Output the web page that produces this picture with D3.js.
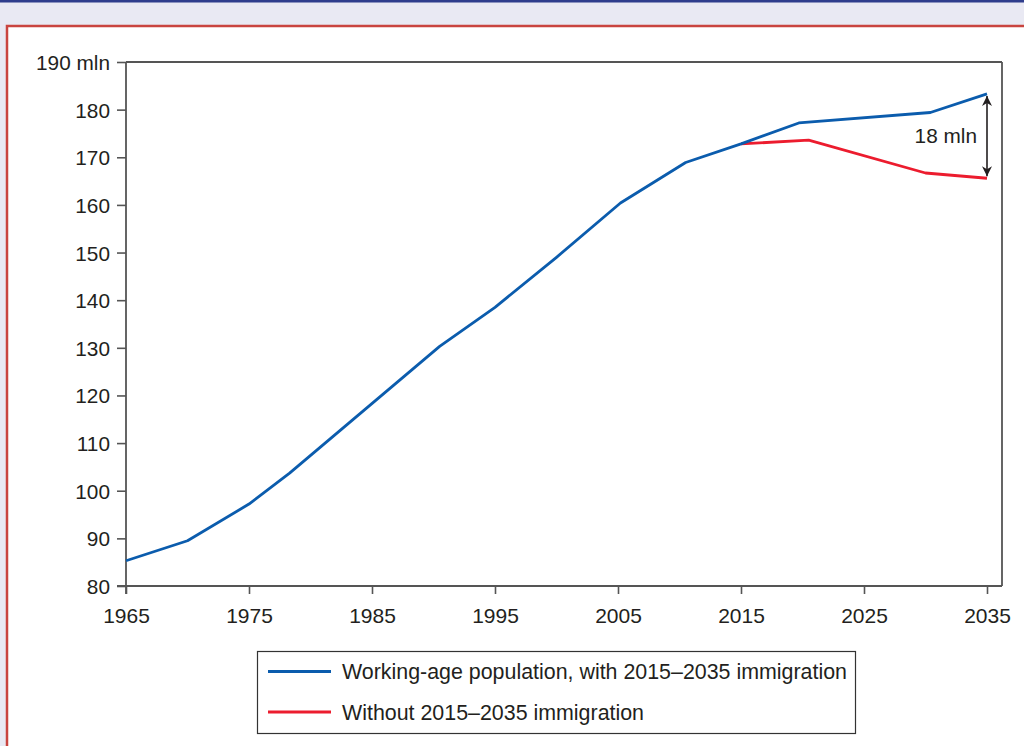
<!DOCTYPE html>
<html><head><meta charset="utf-8">
<script src="https://cdn.jsdelivr.net/npm/d3@7"></script>
<style>
html,body{margin:0;padding:0;background:#e9e9f3;}
svg{display:block;font-family:"Liberation Sans",Arial,Helvetica,sans-serif;}
</style></head>
<body>
<svg id="chart" width="1024" height="746"></svg>
<script>
// Data
const yearsWith = [1965, 1970, 1975, 1978.3, 1990.5, 1995, 2000, 2005.2, 2010.5, 2015, 2019.7, 2030.4, 2035];
const valuesWith = [85.3, 89.5, 97.2, 103.7, 130.3, 138.5, 149.0, 160.4, 168.9, 172.8, 177.2, 179.4, 183.3];
const yearsWithout = [2015, 2020.5, 2030, 2035];
const valuesWithout = [172.8, 173.6, 166.7, 165.6];
const xTicks = [1965, 1975, 1985, 1995, 2005, 2015, 2025, 2035];
const yTicks = [80, 90, 100, 110, 120, 130, 140, 150, 160, 170, 180, 190];
const legendLabels = ["Working-age population, with 2015\u20132035 immigration", "Without 2015\u20132035 immigration"];
const gapLabel = "18 mln";

const BLUE = "#0b5cad", RED = "#ec1c2e", AXIS = "#555";
const svg = d3.select("#chart");

// page background / frames
svg.append("rect").attr("x",0).attr("y",0).attr("width",1024).attr("height",746).attr("fill","#e9e9f3");
svg.append("rect").attr("x",0).attr("y",0).attr("width",1024).attr("height",2.5).attr("fill","#2f3d8c");
svg.append("rect").attr("x",7).attr("y",26).attr("width",1030).attr("height",730)
  .attr("fill","#fff").attr("stroke","#c9443f").attr("stroke-width",2.5);

const pLeft = 126, pRight = 1002, pTop = 62, pBottom = 586;
const x = d3.scaleLinear().domain([1965, 2035]).range([pLeft, 987]);
const y = d3.scaleLinear().domain([80, 190]).range([pBottom, pTop]);

// axes
const yAxis = d3.axisLeft(y).tickValues(yTicks).tickSize(9).tickSizeOuter(0)
  .tickFormat(d => d === 190 ? "190 mln" : d);
const gy = svg.append("g").attr("transform",`translate(${pLeft},0)`).call(yAxis);
gy.select(".domain").remove();
gy.selectAll(".tick line").attr("stroke",AXIS).attr("stroke-width",1.6);
gy.selectAll(".tick text").attr("x",-16).attr("dy","0.36em").attr("font-size",20.8).attr("fill","#231f20")
  .attr("font-family","Liberation Sans, Arial, sans-serif");

const xAxis = d3.axisBottom(x).tickValues(xTicks).tickSize(8).tickSizeOuter(0).tickFormat(d3.format("d"));
const gx = svg.append("g").attr("transform",`translate(0,${pBottom})`).call(xAxis);
gx.select(".domain").remove();
gx.selectAll(".tick line").attr("stroke",AXIS).attr("stroke-width",1.6);
gx.selectAll(".tick text").attr("y",22).attr("dy","0.71em").attr("font-size",21).attr("fill","#231f20")
  .attr("font-family","Liberation Sans, Arial, sans-serif");

// frame
const frame = svg.append("g").attr("stroke",AXIS).attr("stroke-width",1.8).attr("fill","none");
frame.append("line").attr("x1",pLeft).attr("x2",pLeft).attr("y1",pTop).attr("y2",pBottom+8);
frame.append("line").attr("x1",pLeft-9).attr("x2",pRight).attr("y1",pBottom).attr("y2",pBottom);
frame.append("line").attr("x1",pLeft).attr("x2",pRight).attr("y1",pTop).attr("y2",pTop);
frame.append("line").attr("x1",pRight).attr("x2",pRight).attr("y1",pTop).attr("y2",pBottom);

// lines
const line = d3.line().x(d => x(d[0])).y(d => y(d[1]));
svg.append("path").datum(yearsWithout.map((d,i)=>[d, valuesWithout[i]]))
  .attr("d",line).attr("fill","none").attr("stroke",RED).attr("stroke-width",2.8).attr("stroke-linejoin","round");
svg.append("path").datum(yearsWith.map((d,i)=>[d, valuesWith[i]]))
  .attr("d",line).attr("fill","none").attr("stroke",BLUE).attr("stroke-width",2.8).attr("stroke-linejoin","round");

// gap annotation
const defs = svg.append("defs");
defs.append("marker").attr("id","ah").attr("viewBox","0 0 10 10").attr("refX",10).attr("refY",5)
  .attr("markerWidth",10).attr("markerHeight",10).attr("markerUnits","userSpaceOnUse").attr("orient","auto-start-reverse")
  .append("path").attr("d","M0,0 L10,5 L0,10 L3,5 Z").attr("fill","#231f20");
const ax = x(2035);
svg.append("line").attr("x1",ax).attr("x2",ax)
  .attr("y1",y(valuesWith[valuesWith.length-1])+2).attr("y2",y(valuesWithout[valuesWithout.length-1])-2)
  .attr("stroke","#231f20").attr("stroke-width",1.6)
  .attr("marker-start","url(#ah)").attr("marker-end","url(#ah)");
svg.append("text").attr("x",ax-10).attr("y",142.5).attr("text-anchor","end")
  .attr("font-size",20.8).attr("fill","#231f20").text(gapLabel);

// legend
const lg = svg.append("g");
lg.append("rect").attr("x",257.5).attr("y",651.5).attr("width",598).attr("height",82)
  .attr("fill","#fff").attr("stroke","#333").attr("stroke-width",1.2);
[BLUE, RED].forEach((c,i) => {
  const ly = 671.5 + i*40.5;
  lg.append("line").attr("x1",268).attr("x2",331).attr("y1",ly).attr("y2",ly).attr("stroke",c).attr("stroke-width",2.8);
  lg.append("text").attr("x",342).attr("y",ly).attr("dy","0.36em").attr("font-size",21.4)
    .attr("fill","#231f20").text(legendLabels[i]);
});
</script>
</body></html>
